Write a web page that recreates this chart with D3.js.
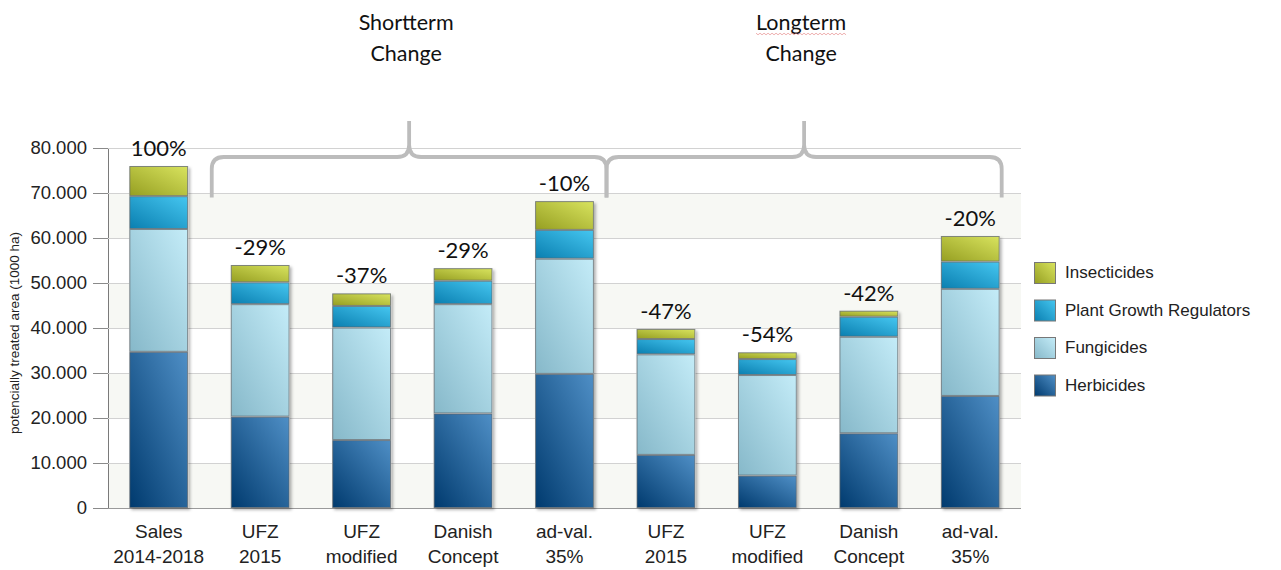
<!DOCTYPE html>
<html>
<head>
<meta charset="utf-8">
<script src="https://cdn.jsdelivr.net/npm/d3@7"></script>
<style>
  body { margin: 0; background: #fff; }
  svg { display: block; }
</style>
</head>
<body>
<div id="chart"></div>
<script>
// chart values (1000 ha)
var categories = [
  ['Sales', '2014-2018'], ['UFZ', '2015'], ['UFZ', 'modified'], ['Danish', 'Concept'], ['ad-val.', '35%'],
  ['UFZ', '2015'], ['UFZ', 'modified'], ['Danish', 'Concept'], ['ad-val.', '35%']
];
var herbicides   = [34700, 20300, 15100, 21000, 29800, 11800,  7200, 16600, 24900];
var fungicides   = [27300, 25000, 25000, 24300, 25600, 22350, 22350, 21450, 23800];
var growthRegs   = [ 7300,  4850,  4800,  5200,  6400,  3400,  3550,  4450,  6050];
var insecticides = [ 6700,  3850,  2800,  2800,  6400,  2250,  1500,  1350,  5700];
var changeLabels = ['100%', '-29%', '-37%', '-29%', '-10%', '-47%', '-54%', '-42%', '-20%'];
var yTicks = [0, 10000, 20000, 30000, 40000, 50000, 60000, 70000, 80000];
var seriesNames = ['Herbicides', 'Fungicides', 'Plant Growth Regulators', 'Insecticides'];
var groups = [
  { title: ['Shortterm', 'Change'], from: 1, to: 4 },
  { title: ['Longterm', 'Change'], from: 5, to: 8 }
];

var W = 1281, H = 570;
var plotLeft = 108, plotRight = 1021, plotTop = 148, plotBottom = 508;

var svg = d3.select('#chart').append('svg')
  .attr('width', W)
  .attr('height', H);

var defs = svg.append('defs');
var gradColors = {
  'Herbicides': ['#003a6e', '#4f8fc6'],
  'Fungicides': ['#86b8c9', '#c4ecf8'],
  'Plant Growth Regulators': ['#0a7fb0', '#45c6f0'],
  'Insecticides': ['#969f22', '#d8e35e']
};
seriesNames.forEach(function(name, i) {
  var g = defs.append('linearGradient')
    .attr('id', 'grad' + i)
    .attr('x1', 0).attr('y1', 1).attr('x2', 1).attr('y2', 0);
  g.append('stop').attr('offset', '0%').attr('stop-color', gradColors[name][0]);
  g.append('stop').attr('offset', '100%').attr('stop-color', gradColors[name][1]);
});
var shadow = defs.append('filter').attr('id', 'shadow')
  .attr('x', '-20%').attr('y', '-10%').attr('width', '150%').attr('height', '130%');
shadow.append('feDropShadow')
  .attr('dx', 2).attr('dy', 2).attr('stdDeviation', 1.6)
  .attr('flood-color', '#000').attr('flood-opacity', 0.3);

var x = d3.scaleBand()
  .domain(d3.range(categories.length))
  .range([plotLeft, plotRight])
  .paddingInner(0.42)
  .paddingOuter(0.21);

var y = d3.scaleLinear()
  .domain([0, 80000])
  .range([plotBottom, plotTop]);

// alternating background bands
svg.append('g').selectAll('rect')
  .data(yTicks.slice(0, -1).filter(function(d, i) { return i % 2 === 0; }))
  .enter().append('rect')
  .attr('x', plotLeft)
  .attr('y', function(d) { return y(d + 10000); })
  .attr('width', plotRight - plotLeft)
  .attr('height', function(d) { return y(d) - y(d + 10000); })
  .attr('fill', '#f7f8f4');

// y axis with gridlines
var yAxis = svg.append('g')
  .attr('transform', 'translate(' + plotLeft + ',0)')
  .call(d3.axisLeft(y)
    .tickValues(yTicks)
    .tickSize(15)
    .tickSizeOuter(0)
    .tickPadding(6)
    .tickFormat(function(d) { return d === 0 ? '0' : d3.format(',')(d).replace(/,/g, '.'); }));
yAxis.select('.domain').attr('stroke', '#7a7a7a');
yAxis.selectAll('.tick line').attr('stroke', '#8a8a8a');
yAxis.selectAll('.tick text')
  .attr('font-family', 'Liberation Sans, Arial, sans-serif')
  .attr('font-size', 18.5)
  .attr('fill', '#222');
yAxis.selectAll('.tick').append('line')
  .attr('x1', 0).attr('x2', plotRight - plotLeft)
  .attr('stroke', function(d) { return d === 0 ? '#9a9a9a' : '#d2d2d2'; });

svg.append('text')
  .attr('transform', 'translate(19,' + ((plotTop + plotBottom) / 2 + 5) + ') rotate(-90)')
  .attr('text-anchor', 'middle')
  .attr('font-family', 'Liberation Sans, Arial, sans-serif')
  .attr('font-size', 13.5)
  .attr('fill', '#222')
  .text('potencially treated area (1000 ha)');

// stacked bars
var table = categories.map(function(c, i) {
  return {
    'Herbicides': herbicides[i],
    'Fungicides': fungicides[i],
    'Plant Growth Regulators': growthRegs[i],
    'Insecticides': insecticides[i]
  };
});
var stacked = d3.stack().keys(seriesNames)(table);

var bars = svg.append('g');
bars.selectAll('rect.shadow')
  .data(categories)
  .enter().append('rect')
  .attr('x', function(d, i) { return x(i); })
  .attr('y', function(d, i) { return y(stacked[3][i][1]); })
  .attr('width', x.bandwidth())
  .attr('height', function(d, i) { return y(0) - y(stacked[3][i][1]); })
  .attr('fill', '#fff')
  .attr('filter', 'url(#shadow)');

stacked.forEach(function(layer, k) {
  bars.append('g').selectAll('rect')
    .data(layer)
    .enter().append('rect')
    .attr('x', function(d, i) { return x(i) + 0.5; })
    .attr('y', function(d) { return y(d[1]) + 0.5; })
    .attr('width', x.bandwidth() - 1)
    .attr('height', function(d) { return y(d[0]) - y(d[1]) - 1; })
    .attr('fill', 'url(#grad' + k + ')')
    .attr('stroke', '#5d6468')
    .attr('stroke-opacity', 0.75)
    .attr('stroke-width', 1);
});

// change labels
svg.append('g').selectAll('text')
  .data(changeLabels)
  .enter().append('text')
  .attr('x', function(d, i) { return x(i) + x.bandwidth() / 2; })
  .attr('y', function(d, i) { return y(stacked[3][i][1]) - 10; })
  .attr('text-anchor', 'middle')
  .attr('font-family', 'Lato, sans-serif')
  .attr('font-size', 22)
  .attr('fill', '#111')
  .text(function(d) { return d; });

// category labels
var xl = svg.append('g').selectAll('text')
  .data(categories)
  .enter().append('text')
  .attr('text-anchor', 'middle')
  .attr('font-family', 'Liberation Sans, Arial, sans-serif')
  .attr('font-size', 19)
  .attr('fill', '#222');
xl.append('tspan')
  .attr('x', function(d, i) { return x(i) + x.bandwidth() / 2; })
  .attr('y', 538)
  .text(function(d) { return d[0]; });
xl.append('tspan')
  .attr('x', function(d, i) { return x(i) + x.bandwidth() / 2; })
  .attr('y', 563)
  .text(function(d) { return d[1]; });

// braces over the groups
var braceY = y(78000), braceEnd = y(69000), braceTip = y(86000);
var split = x(5) - 30;
var bounds = [
  [x(1) - 19, split],
  [split, x(8) + x.bandwidth() + 2]
];
groups.forEach(function(g, gi) {
  var x0 = bounds[gi][0], x1 = bounds[gi][1], xm = (x0 + x1) / 2, r = 12;
  var p = d3.path();
  p.moveTo(x0, braceEnd);
  p.lineTo(x0, braceY + r);
  p.quadraticCurveTo(x0, braceY, x0 + r, braceY);
  p.lineTo(xm - r, braceY);
  p.quadraticCurveTo(xm, braceY, xm, braceY - r);
  p.lineTo(xm, braceTip);
  p.moveTo(xm, braceY - r);
  p.quadraticCurveTo(xm, braceY, xm + r, braceY);
  p.lineTo(x1 - r, braceY);
  p.quadraticCurveTo(x1, braceY, x1, braceY + r);
  p.lineTo(x1, braceEnd);
  svg.append('path')
    .attr('d', p.toString())
    .attr('fill', 'none')
    .attr('stroke', '#bcbcbc')
    .attr('stroke-width', 3.8);

  var t = svg.append('text')
    .attr('text-anchor', 'middle')
    .attr('font-family', 'Lato, sans-serif')
    .attr('font-size', 21.5)
    .attr('fill', '#111');
  t.append('tspan').attr('x', xm - 3).attr('y', 30).text(g.title[0]);
  t.append('tspan').attr('x', xm - 3).attr('y', 61).text(g.title[1]);

  if (g.title[0] === 'Longterm') {
    // spell-check squiggle under the word, as in the source screenshot
    var bb = t.select('tspan').node().getBBox();
    var pts = d3.range(bb.x, bb.x + bb.width, 2).map(function(px, i) {
      return [px, 34 + (i % 2 ? 0.8 : -0.8)];
    });
    svg.append('path')
      .attr('d', d3.line()(pts))
      .attr('fill', 'none')
      .attr('stroke', '#e07070')
      .attr('stroke-opacity', 0.7)
      .attr('stroke-width', 0.8);
  }
});

// legend
var legend = svg.append('g').attr('transform', 'translate(1034,262)');
var legendOrder = seriesNames.slice().reverse();
var li = legend.selectAll('g')
  .data(legendOrder)
  .enter().append('g')
  .attr('transform', function(d, i) { return 'translate(0,' + (i * 37.5) + ')'; });
li.append('rect')
  .attr('x', 0.5).attr('y', 0.5)
  .attr('width', 21).attr('height', 21)
  .attr('fill', function(d) { return 'url(#grad' + seriesNames.indexOf(d) + ')'; })
  .attr('stroke', '#777');
li.append('text')
  .attr('x', 31)
  .attr('y', 16)
  .attr('font-family', 'Liberation Sans, Arial, sans-serif')
  .attr('font-size', 17)
  .attr('fill', '#222')
  .text(function(d) { return d; });
</script>
</body>
</html>
